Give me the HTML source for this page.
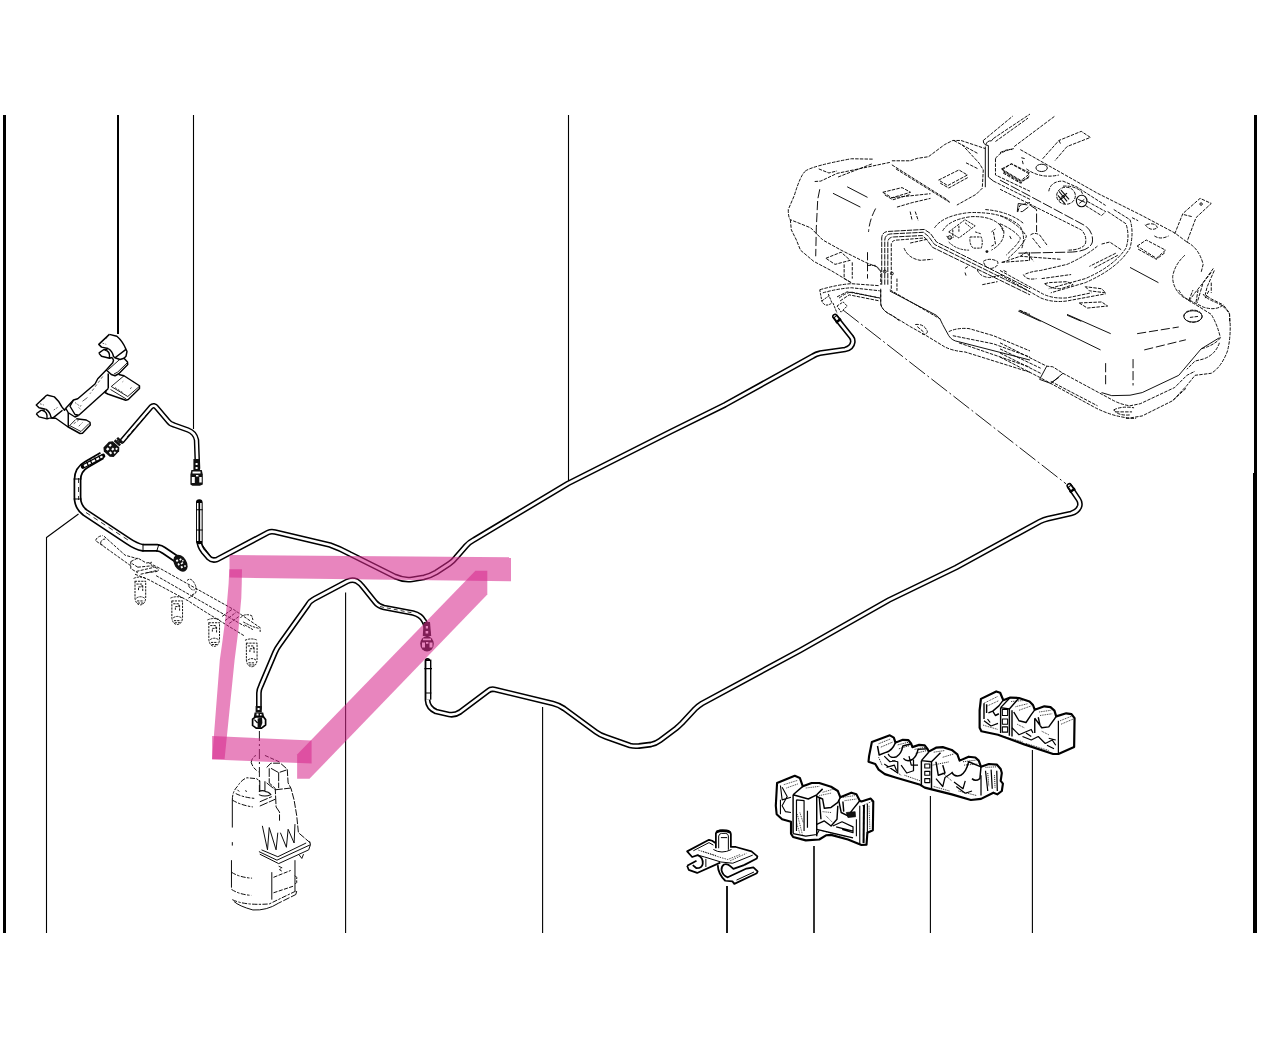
<!DOCTYPE html>
<html><head><meta charset="utf-8"><title>Diagram</title>
<style>
html,body{margin:0;padding:0;background:#fff;font-family:"Liberation Sans",sans-serif;}
svg{display:block}
.k{fill:none;stroke:#000;stroke-linecap:butt;stroke-linejoin:round}
.po{fill:none;stroke:#000;stroke-width:5.8;stroke-linejoin:round;stroke-linecap:round}
.pi{fill:none;stroke:#fff;stroke-width:2.7;stroke-linejoin:round;stroke-linecap:round}
.t{fill:none;stroke:#0a0a0a;stroke-linejoin:round}
.w{fill:#fff;stroke:#000;stroke-linejoin:round}
</style></head><body>
<svg width="1280" height="1048" viewBox="0 0 1280 1048">
<rect width="1280" height="1048" fill="#fff"/>
<defs>
<path id="p1" d="M122,441 L151,407 Q154,404 157,408 L168,421 Q170,424 174,425 L188,430 Q195,432.5 196.5,440 L197.5,468"/>
<path id="p2" d="M102,455.5 L86.5,464.5 Q77.5,469.5 77.5,480 L77.5,497 Q77.5,507 85,512.5 L128,541 Q136,546.5 143,547.8 L157,547.8 Q161,548.2 164,550.5 L178,560"/>
<path id="p3" d="M199.3,503 L199.3,540 Q199,546 203,551 L209,558 Q212,561 217,559.5 L268,532.5 Q271,531 275,532 L330,545 Q340,548.5 350,554 L395,576.5 Q404,580.5 412,579.3 L424,577.3 Q430,576 436,572.5 L449,564 Q453,561.5 456,557.5 L466,546 Q469,542.5 474,539.8 L568,483.5 L670,432 L725,404.8 L813,356 Q816,354 820,353.2 L845,349.5 Q852,348 852.8,342 Q853,339 851.3,337 L835,316.5"/>
<path id="p4" d="M258.9,708 L258.9,693 Q259,689.5 260.8,686 L275,652.5 Q277,648 280,644 L307.5,605.5 Q310,601 314,599 L347,581.5 Q352,579 356.5,581 Q360,583 363,587 L375,602 Q378,606 384,607.5 L413,613 Q421,615 424,621 Q427,626 427.5,634"/>
<path id="p5" d="M427.5,661 L427.5,700 Q428,708 436,711.5 L449,714.5 Q455,715.5 460,712 L488,691 Q491,688.5 495,689.5 L553,703.5 Q559,705 564,708.5 L596,732 Q600,735 606,737 L630,745.5 Q634,746.5 639,746 L651,744.5 Q656,743.5 660,740.5 L676,728.5 Q679,726 682,723 L695,709 Q698,706 702,703.5 L800,650.5 L889,600 L956,567.5 L1040,521.5 Q1044,519.5 1048,518.6 L1071,513.5 Q1078,511.5 1079.7,506 Q1080.5,502.5 1078.5,499.5 L1069.3,485.8"/>
</defs>

<!-- borders -->
<g id="borders">
<rect x="3" y="115" width="3" height="818" fill="#000"/>
<rect x="1254" y="115" width="3" height="818" fill="#000"/>
<rect x="1253" y="473" width="4" height="460" fill="#000"/>
</g>

<!-- leader lines -->
<g id="leaders" class="k">
<path d="M118,115 V334" stroke-width="2"/>
<path d="M193.5,115 V429" stroke-width="1.1"/>
<path d="M568.5,115 V481.5" stroke-width="1.1"/>
<path d="M46.5,933 V537.5 L78.5,514" stroke-width="1.1"/>
<path d="M345.6,592.5 V933" stroke-width="1.1"/>
<path d="M542.6,707 V933" stroke-width="1.1"/>
<path d="M727,886 V933" stroke-width="1.8"/>
<path d="M814,846 V933" stroke-width="1.6"/>
<path d="M930.4,796 V933" stroke-width="1.1"/>
<path d="M1032.4,750 V933" stroke-width="1.1"/>
</g>

<!-- dash-dot centre lines -->
<g class="k" stroke-width="0.9" stroke="#222">
<path d="M843,310 L1066,483.8" stroke-dasharray="20 3 2 3"/>
<path d="M259.4,731 V792" stroke-dasharray="10 3 2 3"/>
</g>

<!-- pipes -->
<g id="pipes">
<!-- p2 thick hose -->
<use href="#p2" fill="none" stroke="#000" stroke-width="7.9" stroke-linejoin="round"/><use href="#p2" fill="none" stroke="#fff" stroke-width="4.5" stroke-linejoin="round"/>
<path d="M78.5,478 V500 M86,512.5 L128,540" class="k" stroke-width="0.8" stroke-dasharray="5 4"/>
<path d="M73.5,479 H81.5 M73.5,499 H81.5 M143,543.8 V551.8 M159,544 L156.5,551.8" class="k" stroke-width="1"/>
<!-- p2 ribbed tip -->
<path d="M103,456 L83,466.5" fill="none" stroke="#000" stroke-width="4.6" stroke-linecap="round"/>
<path d="M102.5,456.3 L84,466" fill="none" stroke="#fff" stroke-width="2"/>
<path d="M98.5,455.5 L100.5,459.5 M94.5,457.5 L96.5,461.5 M90,459.5 L92,464 M86.5,461.5 L88.5,466" class="k" stroke-width="1.3"/>
<!-- p2 end connector -->
<g transform="translate(180.5,563.2) rotate(-32)">
<ellipse rx="6.2" ry="9.2" fill="#111"/>
<path d="M-2.5,-5 h2 v2 h-2z M1,-4 h2 v1.6 h-2z M-3,-1 h1.6 v2 h-1.6z M0,0 h2.4 v1.6 h-2.4z M-2,3 h2 v2 h-2z M1.5,4 h1.6 v1.6 h-1.6z M2.6,-1.5 h1.4 v1.4 h-1.4z" fill="#fff"/>
</g>
<!-- p1 hose -->
<use href="#p1" class="po" style="stroke-width:5.5"/><use href="#p1" class="pi" style="stroke-width:2.6"/>
<path d="M127,437 L150,411" class="k" stroke-width="0.8" stroke-dasharray="4 3"/>
<!-- p1 start connector -->
<g transform="translate(111.6,449) rotate(-47)">
<polygon points="-7,-4 -4.5,-7 3.5,-7 6.5,-4.5 6.5,4.5 3.5,7 -4.5,7 -7,4" fill="#111"/>
<path d="M-4,-4 h2.6 v2.4 h-2.6z M0.5,-4.5 h2.6 v2 h-2.6z M-4.5,0.5 h2 v2.6 h-2z M-0.5,0 h2.4 v2 h-2.4z M2.5,2.5 h2 v2 h-2z M-1.5,4 h2 v1.6 h-2z" fill="#fff"/>
<rect x="7.2" y="-3.8" width="2.6" height="7.6" fill="#111"/>
<rect x="10.8" y="-3.6" width="2.4" height="7.2" fill="#111"/>
<rect x="9.8" y="-2" width="1" height="4" fill="#111"/>
</g>
<!-- p1 end connector -->
<path d="M193.4,459 h6.4 v11 h-6.4z" fill="#111"/>
<path d="M195.6,463 h2 v2 h-2z M195.6,467 h2 v2 h-2z" fill="#fff"/>
<path d="M191.4,470 h10.4 l1,4.5 v10 l-3,1.2 h-7.4 l-2,-1.2 v-10z" fill="#111"/>
<path d="M191.8,477 h3 v6 h-3z M199.3,477 h2.4 v5.6 h-2.4z M192.5,471.5 h8 v2 h-8z M196,475 h2.4 v1.6 h-2.4z" fill="#fff"/>
<!-- p3 -->
<use href="#p3" class="po"/><use href="#p3" class="pi"/>
<path d="M199.3,503 V541 L212,558" class="k" stroke-width="0.9"/>
<path d="M199.3,502.5 v38.5" fill="none" stroke="#000" stroke-width="6.6" stroke-linecap="round"/>
<path d="M197.7,503 v38 M200.9,503 v38" fill="none" stroke="#fff" stroke-width="1.5"/>
<path d="M196,509.8 h6.6 M196,530 h6.6" class="k" stroke-width="1.1"/>
<path d="M835,316.3 L838.8,321.2" class="k" stroke-width="5.6" stroke-linecap="round"/>
<path d="M835.6,317 L838,320" fill="none" stroke="#fff" stroke-width="2.2"/>
<path d="M835.9,322.8 L840.9,318.8" class="k" stroke-width="2.4"/>
<!-- p4 -->
<use href="#p4" class="po"/><use href="#p4" class="pi"/>
<path d="M380,606.6 L413,613" class="k" stroke-width="0.8" stroke-dasharray="4 3"/>
<!-- p4 bottom connector -->
<path d="M255.6,706 h6.2 v6.6 h-6.2z" fill="#111"/>
<path d="M257.6,708 h2 v2 h-2z" fill="#fff"/>
<path d="M254.6,712.4 h8.6 l1,4.6 h-10.4z" fill="#111"/>
<path d="M256.5,713.6 h2 v1.8 h-2z M260,714 h1.6 v1.6 h-1.6z" fill="#fff"/>
<path d="M252.6,719.2 L255.6,716.8 H263.4 L265.6,719.6 V725 L261.5,728.2 H256.2 L252.6,725.4 Z" fill="#fff" stroke="#000" stroke-width="1.7" stroke-linejoin="round"/>
<path d="M257.6,718.4 L262,717.6 L262.4,723 L260.5,728 L257.6,727.6 Z" fill="#111"/>
<path d="M254.4,719.6 L257.6,723" stroke="#000" stroke-width="1.2" fill="none"/>
<!-- p4 top connector -->
<path d="M423.6,622 h6.4 l1.2,14 h-8.4z" fill="#111"/>
<path d="M425.8,626 h2.2 v2.4 h-2.2z M425.6,631 h2.6 v2.4 h-2.6z" fill="#fff"/>
<ellipse cx="427" cy="643.8" rx="6.8" ry="7.6" fill="#111"/>
<path d="M423,638.5 h8 v1.8 h-8z M422,642.5 h3 v5 h-3z M429.5,642.5 h3 v5 h-3z M426,642 h2.4 v1.8 h-2.4z" fill="#fff"/>
<!-- p5 -->
<use href="#p5" class="po"/><use href="#p5" class="pi"/>
<path d="M428.2,659.6 v40" fill="none" stroke="#000" stroke-width="6.4"/>
<path d="M428.2,661 v38.6" fill="none" stroke="#fff" stroke-width="3.6"/>
<path d="M424.4,668.7 h7.6 M425,693 h6.4" class="k" stroke-width="1.2"/>
<path d="M1069.3,485.8 L1073,491" class="k" stroke-width="5.6" stroke-linecap="round"/>
<path d="M1069.9,486.6 L1072.2,489.8" fill="none" stroke="#fff" stroke-width="2.2"/>
<path d="M1069.7,492.2 L1075.1,488.6" class="k" stroke-width="2.4"/>
</g>

<!-- bracket (8x zoom coords, origin 20,320) -->
<g id="bracket" transform="translate(20,320) scale(0.125)" class="k" stroke-width="11.5">
<g id="clamp">
<path d="M715,115 L630,195 L652,217 L705,228"/>
<path d="M715,115 L775,130 Q822,170 848,235 L856,252 L848,290 L832,306"/>
<path d="M705,228 Q740,250 748,292 L760,302 L848,235"/>
<path d="M630,265 L668,238 L700,234 M630,265 L652,290 L716,306 L738,300 M680,240 Q722,250 716,300"/>
<path d="M665,160 L700,140 M660,185 L690,195" stroke-width="5" stroke-dasharray="14 10"/>
</g>
<path d="M738,300 L748,322 L742,342 L690,400"/>
<path d="M760,302 L800,316 L832,306 L860,336 L862,356 L790,430 L760,446 L730,436 L702,410 L690,400"/>
<path d="M795,318 L705,398 M856,344 L782,416 L752,432" stroke-width="7"/>
<!-- arm -->
<path d="M690,400 L622,470 L600,512 L462,630 L428,640 L366,706"/>
<path d="M706,428 L706,548" stroke-width="12"/>
<path d="M692,562 L470,762"/>
<path d="M662,452 L560,590" stroke-width="5" stroke-dasharray="22 18"/>
<path d="M540,620 L500,650" stroke-width="5"/>
<!-- pad -->
<path d="M790,436 L832,446 L956,526 L956,548 L866,636 L846,642 L702,592 L680,580 L692,562 L706,548"/>
<path d="M832,446 L730,532 L862,612 L956,530 M724,556 L850,632" stroke-width="7"/>
<path d="M760,540 L830,585 M880,550 L900,535 M820,495 L826,490" stroke-width="5" stroke-dasharray="16 12"/>
<!-- lower clamp -->
<path d="M215,600 L130,680 L152,702 L205,713"/>
<path d="M215,600 L275,615 Q315,650 335,695 L356,722 L366,706"/>
<path d="M205,713 Q240,735 248,777 L262,785 L340,722"/>
<path d="M130,750 L168,723 L200,719 M130,750 L152,775 L216,791 L238,785 M180,725 Q222,735 216,785"/>
<path d="M165,645 L200,625 M160,670 L190,680 M270,720 L300,700" stroke-width="5" stroke-dasharray="14 10"/>
<path d="M238,785 L286,786 L385,856"/>
<!-- arm base -->
<path d="M428,640 L400,690 L440,756 L470,762 M366,706 L386,742 L440,776 L470,762"/>
<path d="M440,660 L480,690 L500,680 M470,700 L490,720" stroke-width="5" stroke-dasharray="14 10"/>
<!-- foot -->
<path d="M386,742 L386,856 L480,908 L500,906 L562,840 L560,818 L530,800 L450,790"/>
<path d="M386,856 L445,796 M400,846 L488,892 L552,828" stroke-width="7"/>
<path d="M430,830 L470,800 M470,850 L500,820" stroke-width="5" stroke-dasharray="20 12"/>
</g>


<!-- clips 1,2 (zoom 6.39, origin 680,770) -->
<g id="clipsA" transform="translate(680,770) scale(0.15649)" class="k" stroke-width="9.5">
<!-- clip1: spring clip (nested, 16x coords origin 684,822) -->
<g transform="scale(6.39) translate(-680,-770) translate(684,822) scale(0.0625)" stroke-width="28">
<path d="M510,340 L450,300 L400,285 L50,470 L130,560 L220,530 Q310,570 300,670 Q290,740 200,740 L140,690"/>
<path d="M50,700 L200,620 M50,700 L75,765 L210,815 L580,650"/>
<path d="M510,420 V185 Q520,140 580,135 L680,135 Q745,145 750,195 V400 L830,400 L1080,470 L1175,550 L1165,585 L960,690"/>
<path d="M540,690 Q545,830 660,940 L775,950 L805,990 L1165,820 L1178,790 L1110,725 L1000,745 L700,885 Q620,860 600,770 Q595,710 640,680 Q690,660 740,705 L790,750 L960,690"/>
<path d="M520,160 Q620,120 740,165" stroke-width="40"/>
<path d="M150,460 L400,330 L470,370 M330,560 L590,640 M590,640 L780,660 L1100,530 M350,590 V720 M840,930 L1120,800 M220,530 L330,560" stroke-width="16"/>
<path d="M555,420 V225 Q562,188 600,182 L670,182 Q705,190 710,222 V445 M590,250 H690 M470,440 Q600,520 760,440" stroke-width="16"/>
<path d="M230,450 L560,560 L700,600 L900,520 M300,470 L520,540 M740,620 L1000,500" stroke-width="12" stroke-dasharray="22 18"/>
</g>
<!-- clip2 (nested, 11.85x coords origin 772,772) -->
<g transform="scale(6.39) translate(-680,-770) translate(772,772) scale(0.0844)" stroke-width="15">
<path d="M60,130 L270,45 L330,70 L365,170 L470,130 L560,130 L700,175 L780,225 L810,300 L940,245 L1000,265 L1040,340 L1060,350 L1170,315 L1200,350 L1195,690 L1130,720 L1120,860 L1060,865 L900,800 L700,745 L640,750 L560,800 L400,810 L250,770 L225,730 L225,590 L120,560 L55,500 L45,400 Z" stroke-width="25" fill="#fff"/>
<path d="M100,160 L120,330 L225,300 M120,180 L180,290 L120,400 L160,470 L225,480 M100,330 V500" stroke-width="13"/>
<path d="M250,270 L365,170 M250,270 V730 M250,270 L430,320 L530,270 M530,270 V760 M530,270 L600,200" stroke-width="17"/>
<path d="M290,330 L380,340 V700 M290,330 V700 M420,460 V660" stroke-width="14"/>
<path d="M530,290 L600,320 L620,430 L700,420 L780,360 L810,300 M560,300 L580,560 M530,620 L620,580 L700,640 L770,560 L780,400" stroke-width="17"/>
<path d="M790,330 L820,480 L900,520 L960,440 L1040,340 M840,350 L850,470" stroke-width="17"/>
<path d="M880,480 L985,470 L990,530 L900,540 Z" fill="#111" stroke-width="8"/>
<path d="M530,680 L960,780 M720,640 L830,590 L960,650 V720 L830,680 M760,650 L960,700" stroke-width="14"/>
<path d="M1040,400 V860 M1130,380 V720 M1000,560 V760" stroke-width="13"/>
<path d="M1090,390 L1085,840" stroke-width="24"/>
<path d="M250,730 L400,760 L530,740 L560,690" stroke-width="13"/>
<path d="M140,150 L300,100 M170,190 L310,140 M400,190 L560,170 M600,240 L740,200 M560,280 L700,250 M840,300 L980,280 M860,340 L1000,320 M1070,400 L1180,350 M300,500 L360,740 M330,480 L370,600 M290,600 L330,730 M600,470 L700,480 M640,520 L720,600 M600,700 L900,770 M1150,400 L1160,680" stroke-width="9" stroke-dasharray="12 10"/>
</g>
</g>
<!-- clip 3 (zoom 8.89, origin 864,728) -->
<g id="clip3" transform="translate(864,728) scale(0.1125)" class="k" stroke-width="11">
<path d="M70,125 L230,65 L265,85 L280,130 L345,105 L395,108 L420,140 L430,170 L490,150 L540,155 L565,185 L575,210 L640,175 L700,170 L780,195 L830,235 L850,290 L930,255 L990,262 L1020,290 L1040,345 L1110,320 L1180,325 L1215,365 L1225,400 L1215,470 L1235,495 L1225,560 L1185,590 L1150,575 L1040,630 L950,640 L780,590 L540,530 L500,505 L280,440 L185,410 L130,370 L100,320 L40,300 L45,250 Z" stroke-width="19" fill="#fff"/>
<path d="M120,160 L135,240 L200,215 Q250,200 280,130 M215,230 Q230,275 290,255 Q335,225 345,160 L420,140 M350,270 Q380,305 430,280 Q470,250 480,190 L565,185 M780,390 Q800,440 860,420 Q910,390 930,300 L1040,345 M960,450 Q990,480 1030,450 L1040,345" stroke-width="13"/>
<path d="M510,290 L575,215 M510,290 V510 M510,290 L600,300 V540 M600,300 L680,220 M640,300 L660,420 L720,400 L700,330" stroke-width="13"/>
<path d="M540,320 h45 v35 h-45z M540,385 h45 v35 h-45z M540,450 h45 v35 h-45z" stroke-width="10"/>
<path d="M180,320 L300,400 L300,300 L250,290 M330,330 L380,400 L440,380 L440,280 M400,250 L420,330 L480,330 M640,450 L700,520 L720,440 L780,400 M800,480 L880,540 L900,470 M820,520 L900,580 L960,560 M1080,380 L1100,560 M1130,370 L1140,540 M1180,380 L1185,560 M1040,420 L1040,600 M180,250 L230,300 L280,290 M200,350 L270,330 L290,380"/>
<path d="M130,140 L240,95 M150,170 L255,125 M300,150 L400,125 M310,185 L410,155 M450,190 L550,170 M460,225 L560,200 M620,215 L720,200 M700,260 L800,230 M880,300 L1000,285 M890,330 L1010,320 M1080,350 L1180,345 M610,330 L760,300 M130,260 L160,330 M240,360 L330,420 M360,420 L500,470 M620,520 L760,560 M700,400 L780,470 M840,560 L1000,600 M1100,400 L1110,520 M1160,420 L1165,530" stroke-width="8" stroke-dasharray="9 8"/>
</g>
<!-- clip 4 (zoom 11.43, origin 970,684) -->
<g id="clip4" transform="translate(970,684) scale(0.0875)" class="k" stroke-width="14">
<path d="M125,170 L300,85 L345,100 L380,185 L460,155 L560,160 L680,200 L720,240 L740,295 L850,255 L920,265 L965,305 L985,370 L1100,335 L1160,345 L1195,390 L1190,720 L1010,800 L950,800 L620,690 L320,580 L130,540 L110,500 L110,300 Z" stroke-width="25" fill="#fff"/>
<path d="M160,220 V400 M190,230 V330 M260,310 L330,250 L380,185 M210,330 L260,310 L290,360 L330,340" stroke-width="16"/>
<path d="M350,270 L460,155 M350,270 V560 M350,270 L450,285 L450,590 M450,285 L560,160 M480,300 V600" stroke-width="16"/>
<path d="M370,290 h60 v70 h-60z M370,400 h60 v60 h-60z M370,490 h60 v60 h-60z" stroke-width="12"/>
<path d="M500,320 L560,420 L640,440 L700,350 L740,295 M740,390 L820,500 L900,490 L965,400 L985,370 M740,390 V560 M780,380 L800,470" stroke-width="16"/>
<path d="M1010,420 V800 M1010,540 V720" stroke-width="14"/>
<path d="M480,500 L560,580 L700,520 L720,560 M600,600 L700,640 L780,600 L860,680 L940,640 L980,700 M880,700 L960,740 M160,420 L240,480 L320,450 M200,400 L230,440 M640,560 L700,600 M900,620 L980,640"/>
<path d="M160,220 L320,140 M200,250 L330,190 M470,200 L600,190 M560,300 L700,250 M520,260 L660,225 M790,320 L930,300 M800,360 L940,340 M1030,420 L1180,360 M1040,460 L1180,400 M150,470 L320,520 M380,600 L600,660 M640,680 L900,760 M540,460 L620,500 M820,540 L900,580" stroke-width="9" stroke-dasharray="11 9"/>
</g>


<!-- canister (zoom 5.825, origin 210,740) -->
<g id="canister" transform="translate(210,740) scale(0.17167)" class="t" stroke-width="5.8" stroke-dasharray="30 8 14 8">
<path d="M130,350 L130,615 M125,700 L125,920 Q140,960 250,990 Q330,995 400,950 L500,900 L505,880" stroke-dasharray="160 85 300 10 40 10"/>
<path d="M125,770 Q170,800 245,805 M125,870 Q170,900 240,905 M130,930 Q200,965 345,955 L500,880"/>
<path d="M130,350 Q130,300 160,270 Q185,230 215,220 L270,225 L290,238 M130,350 Q180,380 250,390 M150,312 Q195,335 260,340 M160,290 L170,300 M205,295 L215,300"/>
<path d="M290,238 V300 M320,240 V300 M285,300 Q305,290 325,300 M285,318 Q320,335 355,318 Q340,300 320,300" stroke-dasharray="none" stroke-width="6"/>
<path d="M330,160 L355,135 L410,135 L450,170 L455,250 L472,282 L490,350 L505,440 L515,540 L585,600" stroke-dasharray="40 8"/>
<path d="M345,165 V250 L380,282 L385,390 L405,420 V470 M355,165 L400,190 L445,175 M400,190 V280 M330,250 L380,290 L470,280 M290,385 L380,345 M290,360 L360,330" stroke-dasharray="50 8"/>
<path d="M305,500 L335,640 L345,510 L385,640 L395,540 M410,540 L445,625 L455,520 L490,600 L495,490" stroke-dasharray="none"/>
<path d="M285,650 L390,700 L585,610 L580,590 M300,640 L395,680 L560,600 M585,610 L575,640 L400,720 L290,665 M520,670 L535,690 L545,665" stroke-dasharray="none"/>
<path d="M360,770 V930 M495,700 V880" stroke-dasharray="none"/>
<path d="M370,800 L470,760 M370,890 L490,850 M400,735 L420,745 L405,755 L420,765 M495,790 L505,800 V830 L495,840" stroke-dasharray="24 8"/>
<path d="M240,130 Q245,100 268,90 M240,130 Q250,165 282,185 M320,90 L410,130" stroke-dasharray="24 10"/>
</g>
<!-- fuel rail (zoom 7.11, origin 90,525) -->
<g id="rail" transform="translate(90,525) scale(0.14063)" class="t" stroke-width="6.8" stroke-dasharray="22 9">
<path d="M45,115 L290,290 M100,80 L250,215 L340,240 M40,110 Q50,80 92,75 M75,130 Q80,100 108,100 M75,130 L95,150"/>
<path d="M290,260 L340,235 L400,270 L440,265 M290,260 V310 L340,340 M340,300 L440,290 L480,310 M340,300 L300,275"/>
<path d="M420,270 L500,310 L1020,600 L1210,730 V760"/>
<path d="M400,340 L480,330 M470,360 L960,640 L1100,720"/>
<path d="M320,350 L420,390 L700,540 L760,580 L840,630 L1100,790"/>
<path d="M330,330 L460,300 M360,350 L490,320 M940,650 L1010,600 M960,680 L1040,620 M990,700 L1060,650" />
<path d="M690,395 Q715,370 740,410 Q765,450 750,485 L720,500 M700,430 Q720,470 745,460 M700,520 L735,500" stroke-dasharray="18 7"/>
<path d="M1070,660 Q1100,625 1150,645 L1160,680 M1090,690 L1150,720 L1200,735 M1100,710 L1160,745" stroke-dasharray="18 7"/>
<g id="inj" stroke-dasharray="16 7">
<path d="M318,400 H398 M320,400 V520 Q325,565 358,568 Q392,565 396,520 V400 M330,520 Q358,500 388,520 M335,540 H382 M340,555 H378"/>
<path d="M330,420 H370 V440 H345 V470 M375,430 V470 M310,380 Q355,360 400,380"/>
</g>
<use href="#inj" transform="translate(262,140)"/>
<use href="#inj" transform="translate(525,295)"/>
<use href="#inj" transform="translate(792,440)"/>
</g>


<!-- TANK tile A (origin 770,110 scale 4.923) -->
<g id="tankA" transform="translate(770,110) scale(0.20313)" class="t" stroke-width="4.8" stroke-dasharray="17 6">
<path d="M175,300 Q210,275 400,240 L510,242"/>
<path d="M175,300 Q150,320 120,420 L90,490 Q90,530 100,540 L200,580 L225,605 L260,640 L350,690 L470,750 L525,772 L545,795"/>
<path d="M100,540 L105,590 L130,640 L150,690 L215,745 L300,790 L400,850"/>
<path d="M600,250 L690,250 L725,238 L780,230 L860,170 L900,150 L940,150 L1060,190"/>
<path d="M220,352 L250,350 L330,312 L590,258 M335,330 L505,264 M240,290 L290,310 L330,300"/>
<path d="M245,390 L235,440 L228,580 L225,720" stroke-dasharray="45 14"/>
<path d="M380,378 L480,430 M310,410 L445,478" stroke-dasharray="none"/>
<path d="M520,485 Q490,540 485,600 M480,700 V830" stroke-dasharray="40 14"/>
<path d="M555,405 L650,382 L692,405 L600,432 Z M565,418 L605,442 L690,416"/>
<path d="M830,345 L930,295 L972,320 L875,372 Z M838,360 L880,384 L975,332"/>
<path d="M600,270 L870,440 M620,290 L885,455 M870,440 L885,455"/>
<path d="M600,432 L790,412 M625,478 L700,456 L790,435 M690,500 L700,545 M715,500 L730,545"/>
<path d="M905,150 L1025,215 M945,170 L1030,262 L1050,295 L1045,385 L1015,415 L920,468 M965,260 L1025,290"/>
<path d="M1050,150 L1195,30 M1100,140 L1280,20 M1110,155 L1270,40 M1100,350 L1280,440"/><path d="M1050,150 Q1048,165 1062,172 Q1068,150 1090,152 L1100,140 M1062,172 L1075,175 V330 L1100,350 M1060,180 V380" stroke-dasharray="none"/>
<path d="M1110,240 V320 L1280,400 M1110,240 Q1130,205 1200,190 M1140,290 L1190,265 L1280,310 M1140,290 L1240,350 L1280,330 M1150,305 L1240,360"/>
<path d="M550,860 V630 Q552,600 580,598 L760,588 L790,608 L820,650 L1280,880" stroke-dasharray="26 5"/>
<path d="M565,860 V640 Q567,612 595,610 L755,602 L780,622 L810,662 L1280,895" stroke-dasharray="26 5"/>
<path d="M580,860 V650 Q582,625 610,625 L750,618 L770,636 L800,676 L1280,910" stroke-dasharray="26 5"/>
<path d="M597,880 V660 Q600,640 630,640 L760,630 M625,830 V890"/>
<path d="M810,580 Q850,520 980,505 Q1150,500 1230,570 Q1260,620 1240,680 M850,595 Q880,540 990,525 Q1110,520 1150,590 Q1160,650 1090,690 M1060,490 Q1180,500 1250,560"/>
<path d="M880,600 L960,540 L1010,570 L930,630 Z M985,625 H1040 Q1050,650 1040,680 H1000 Q980,660 985,625 M900,590 V620 M930,570 V600 M960,555 L990,580 M870,620 Q880,640 905,625 M880,650 Q920,690 980,690 M1010,600 L1040,610 M1090,600 L1110,585" stroke-dasharray="12 5"/><circle cx="885" cy="628" r="9" stroke-dasharray="none"/>
<circle cx="1068" cy="697" r="7" fill="#111" stroke="none"/>
<path d="M1100,600 L1110,660 L1090,670 M1130,560 L1150,600 M1180,620 L1190,640"/>
<path d="M660,680 Q680,730 740,740 L800,735 M690,655 L780,635"/>
<path d="M275,730 L350,700 L395,740 L320,760 Z M365,760 V830 M405,750 V830 M365,830 L400,850"/>
<path d="M480,765 L520,765 L545,790 V860"/>
<path d="M245,885 Q330,860 400,855 L540,865 M260,900 Q330,880 400,875 L540,890 M330,920 L380,895 L540,925 M345,940 L390,910 L540,940"/>
<path d="M245,885 L255,940 Q270,975 305,950 L285,900 M255,940 L290,915 M330,965 L360,945 L380,965 L350,995 Z M310,950 L330,1000" stroke-dasharray="12 5"/>
<path d="M545,880 V950 Q550,990 600,1010 L640,1040 M590,885 L840,1030" />
<path d="M960,780 L975,770 M960,800 L965,815 M1020,785 Q1030,820 1080,825 L1130,815 M1050,745 Q1080,725 1120,745 Q1130,770 1090,780 Q1060,780 1050,745 M1140,750 L1280,740 M1150,790 L1170,800 M1045,860 L1120,845 M1220,500 L1230,470 L1280,455"/>
<circle cx="565" cy="795" r="7" stroke-dasharray="none"/><circle cx="600" cy="805" r="7" stroke-dasharray="none"/>
</g>
<!-- TANK tile B (origin 1000,110) -->
<g id="tankB" transform="translate(1000,110) scale(0.20313)" class="t" stroke-width="4.8" stroke-dasharray="17 6">
<path d="M70,180 L270,30"/>
<path d="M0,210 Q40,190 60,195 M100,195 L480,410 L700,520 L860,605 L920,650"/>
<path d="M210,240 L290,150 L400,105 L445,135 L330,180 L270,250 M290,150 L300,170"/>
<path d="M10,295 L55,265 L145,315 L100,350 Z M15,310 L100,360 L145,325"/>
<path d="M105,235 L125,240 M110,250 L115,270 M130,290 Q200,340 290,320"/>
<ellipse cx="205" cy="285" rx="28" ry="18" stroke-dasharray="none"/>
<path d="M0,345 L420,570 Q460,600 455,650 Q440,700 330,700 L85,705" stroke-dasharray="50 10"/>
<path d="M0,390 L400,590 Q430,620 420,660 Q400,690 330,690"/>
<path d="M240,400 Q250,350 310,350 L380,380 L520,470 M310,375 Q360,370 400,400 L410,420 M430,450 L520,500 L500,520 L420,470"/>
<ellipse cx="325" cy="422" rx="46" ry="42"/>
<path d="M290,400 L330,450 M285,420 L320,462 M300,395 L340,440 M300,430 L330,410 M290,445 L320,425" stroke-dasharray="none" stroke-width="5.5"/>
<ellipse cx="402" cy="448" rx="26" ry="28" stroke-dasharray="none" stroke-width="5.5"/><path d="M385,440 L420,455 M390,460 L415,440" stroke-dasharray="none"/>
<path d="M90,460 L150,470 M90,460 L85,500 L110,500 L150,470 L180,490 V600" stroke-dasharray="45 12"/>
<path d="M150,615 Q170,600 195,615 L235,670 M160,630 L200,680"/>
<path d="M0,520 Q90,560 130,620 Q120,660 40,730 M0,560 Q70,590 100,630 Q100,650 30,715"/>
<path d="M10,750 L100,720 L300,735 M100,720 L130,700 L165,745 M145,700 V745"/>
<path d="M560,490 L640,540 Q660,600 640,680 Q580,780 420,850 L250,900 M530,500 L620,560 Q640,620 620,680 Q560,770 420,830 L240,880"/>
<path d="M500,660 L540,650 L600,690 M480,670 Q420,720 330,760 L200,790 Q150,795 120,810 M570,705 L440,770 M580,715 L460,780"/>
<path d="M115,810 Q130,840 180,830 M205,830 L350,810 M220,855 Q250,880 300,880 L360,860 L330,845 L240,850 Z"/>
<path d="M0,790 L210,905 Q260,930 330,925 L450,900 M0,810 L200,925 Q260,950 330,940 L520,905 M420,870 L440,890 L520,900 L500,880 Z M390,950 L430,975 L530,965 L500,945 Z"/>
<path d="M675,670 L720,640 L815,690 L770,730 Z M680,685 L770,735 L815,700"/>
<path d="M650,530 L680,545 M715,565 Q740,600 775,580 Q770,560 740,560 Z M760,620 Q790,640 830,620"/>
<path d="M860,610 L900,510 L985,435 L1040,460 L965,530 L920,650 M905,515 L945,525"/>
<circle cx="990" cy="463" r="6" stroke-dasharray="none"/>
<path d="M920,650 Q980,680 1000,760 L990,800 M910,715 Q860,760 850,820 Q850,880 900,920 L1000,970 Q1060,990 1100,960 L1130,1000 V1048"/>
<path d="M1050,780 L1000,850 L970,950 M1055,790 L1020,870 L1010,910 L1040,930 L1100,960 M1040,800 L960,900 L930,940 M1040,850 V900"/>
<path d="M640,775 L780,850" stroke-dasharray="none"/>
<ellipse cx="950" cy="1015" rx="45" ry="30"/>
<path d="M90,990 L200,1040 M330,1010 L400,1040" stroke-dasharray="none"/>
</g>
<!-- TANK tile C (origin 770,290) -->
<g id="tankC" transform="translate(770,290) scale(0.20313)" class="t" stroke-width="4.8" stroke-dasharray="17 6">
<path d="M340,40 Q370,15 400,10 L540,40 M545,0 V70 Q550,100 600,125 L690,180 L770,225 L860,280 Q900,300 960,305 L1280,405"/>
<path d="M590,5 L820,125 Q840,140 850,170 L880,225 Q895,250 930,255 L1280,345" stroke-dasharray="none"/>
<path d="M880,205 Q920,185 980,190 L1100,225 L1280,300 M900,225 L1100,265 L1280,330 M930,260 L1280,380"/>
<path d="M715,170 Q760,165 775,205 Q770,225 745,215 M725,180 L760,210 M1230,100 L1280,120"/>
</g>
<!-- TANK tile D (origin 1000,290) -->
<g id="tankD" transform="translate(1000,290) scale(0.20313)" class="t" stroke-width="4.8" stroke-dasharray="17 6">
<path d="M95,100 L495,295 M330,120 L545,215" stroke-dasharray="none"/>
<path d="M675,215 L880,182 M710,295 L915,245 M520,360 V465 M655,340 V470" stroke-dasharray="45 14"/>
<path d="M0,260 L230,375 L260,378 L310,410 L560,545 Q600,565 640,570 L690,560 L860,480 L920,420 L960,400"/>
<path d="M0,330 L195,430 L250,460 L470,580 Q560,625 640,630 L700,620 L850,545 L920,480"/>
<path d="M0,290 L200,385 M0,310 L200,410 M250,450 L480,570" />
<path d="M230,375 L195,440 L250,460 L310,410 M290,430 L255,455" stroke-dasharray="none"/>
<path d="M500,505 L550,520 L640,518 L700,505 L880,420 L990,290 L1080,235" stroke-dasharray="none"/>
<path d="M560,590 Q600,570 660,580 M560,590 Q580,620 640,615 M570,600 L650,600 M620,632 H670"/>
<path d="M880,0 Q900,40 960,70 L1040,120 Q1070,170 1085,235 M1000,20 Q1010,40 1060,60 Q1110,80 1130,120 Q1140,220 1120,300 Q1090,380 1040,410 L960,420 L920,470 L850,545"/>
<path d="M1085,235 Q1060,270 990,290 M1080,260 Q1060,320 1000,340 L960,350 L920,390"/>
<ellipse cx="950" cy="130" rx="45" ry="28" stroke-dasharray="none"/>
<path d="M935,135 L975,130 M930,50 L950,0 M965,60 L975,0 M1010,40 L1030,0"/>
</g>

<!--COMPONENTS-->

<!-- pink overlay -->
<g id="pink" fill="#d6288c" fill-opacity="0.57">
<polygon points="229.5,555 511,557.3 511,581.3 229.5,577.6"/>
<path d="M229.3,569.2 L242,569.2 Q241.8,585 241.3,598 Q239,630 234.6,660 L224.6,758.9 L212.1,758.9 L219.8,660 Q225,625 227.4,598 Q228.8,585 229.3,569.2 Z"/>
<polygon points="212.1,736.1 311.6,740.5 311.6,763.4 212.1,759.6"/>
<polygon points="475.4,570.8 487.3,570.8 487.3,594.5 309.5,778.8 297.1,778.8 297.1,754.6"/>
</g>
</svg>
</body></html>
